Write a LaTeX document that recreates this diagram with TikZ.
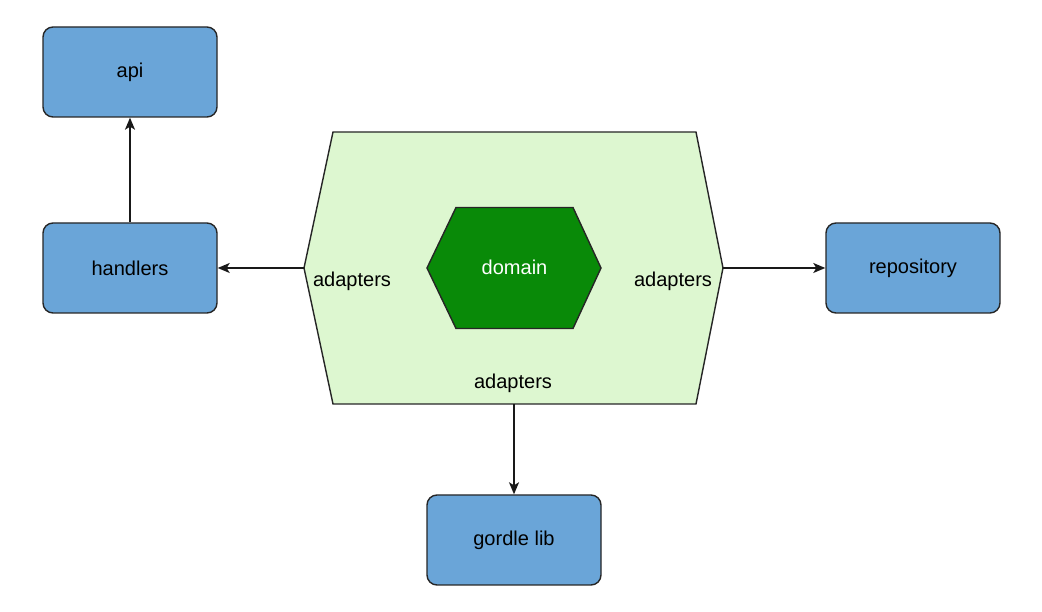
\documentclass[tikz,border=0pt]{standalone}
\usepackage{fontspec}
\setmainfont{Liberation Sans}
\usepackage{tikz}
\usetikzlibrary{arrows.meta}
\usepackage{xcolor}
\definecolor{boxblue}{HTML}{6AA5D8}
\definecolor{adaptgreen}{HTML}{DDF7D0}
\definecolor{domgreen}{HTML}{098A08}

\begin{document}
\begin{tikzpicture}[>={Stealth[length=2.4mm,width=2mm,inset=0.6mm]},font=\fontsize{11.4}{13}\selectfont,line width=0.8pt,
  layer/.style={draw=black!85,fill=boxblue,rounded corners=0.2cm,minimum width=3.48cm,minimum height=1.8cm},
  flow/.style={->,black!90}]
\useasboundingbox (0,0) rectangle (20.84,12.24);
% outer ring
\draw[black!85,fill=adaptgreen] (6.66,9.6) -- (13.92,9.6) -- (14.46,6.88) coordinate (ringE)
  -- (13.92,4.16) -- (10.28,4.16) coordinate (ringS) -- (6.66,4.16) -- (6.08,6.88) coordinate (ringW) -- cycle;
\node (adW) at (7.04,6.61) {adapters};
\node (adE) at (13.46,6.61) {adapters};
\node (adS) at (10.26,4.58) {adapters};
% core
\draw[black!85,fill=domgreen] (8.54,6.88) -- (9.12,8.09) -- (11.46,8.09) -- (12.02,6.88)
  -- (11.46,5.67) -- (9.12,5.67) -- cycle;
\node[text=white] (domain) at (10.29,6.9) {domain};
% outer layers
\node[layer] (api) at (2.6,10.8) {api};
\node[layer] (handlers) at (2.6,6.88) {handlers};
\node[layer] (repo) at (18.26,6.88) {repository};
\node[layer] (lib) at (10.28,1.44) {gordle lib};
\draw[flow] (handlers) -- (api);
\draw[flow] (ringW) -- (handlers);
\draw[flow] (ringE) -- (repo);
\draw[flow] (ringS) -- (lib);
\end{tikzpicture}
\end{document}
